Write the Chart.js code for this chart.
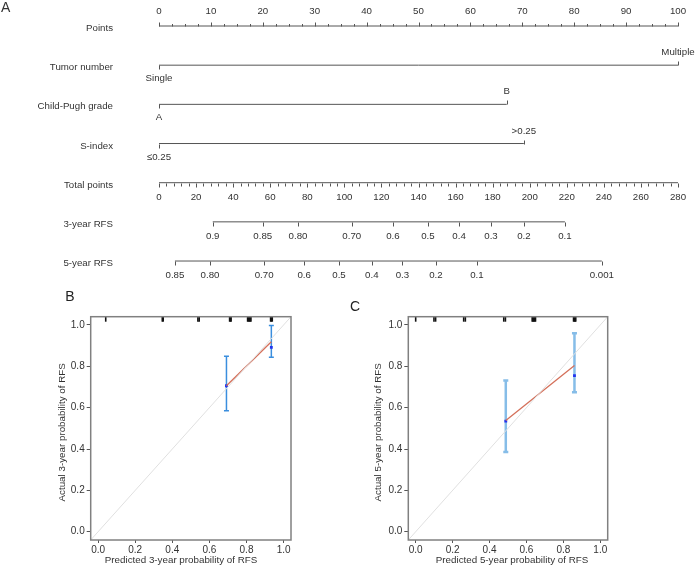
<!DOCTYPE html>
<html>
<head>
<meta charset="utf-8">
<script src="https://cdn.jsdelivr.net/npm/chart.js@4.4.1/dist/chart.umd.min.js"></script>
<style>
  body { margin: 0; background: #fff; }
  #wrap { position: relative; width: 696px; height: 568px; }
  canvas { position: absolute; }
</style>
</head>
<body>
<div id="wrap">
  <canvas id="nomo" width="696" height="285" style="left:0;top:0"></canvas>
  <canvas id="calB" width="330" height="283" style="left:0;top:285px"></canvas>
  <canvas id="calC" width="366" height="283" style="left:330px;top:285px"></canvas>
</div>
<script>
// ---- nomogram data ----
const rowNames = ['Points', 'Tumor number', 'Child-Pugh grade', 'S-index', 'Total points', '3-year RFS', '5-year RFS'];
const pointLabels = [0, 10, 20, 30, 40, 50, 60, 70, 80, 90, 100];
const tumorLevels = ['Single', 'Multiple'];
const tumorPoints = [0, 100];
const childLevels = ['A', 'B'];
const childPoints = [0, 67];
const sIndexLevels = ['\u22640.25', '>0.25'];
const sIndexPoints = [0, 70.3];
const totalLabels = [0, 20, 40, 60, 80, 100, 120, 140, 160, 180, 200, 220, 240, 260, 280];
const rfs3Labels = ['0.9', '0.85', '0.80', '0.70', '0.6', '0.5', '0.4', '0.3', '0.2', '0.1'];
const rfs3Points = [29, 56, 75, 104, 126.2, 145.1, 161.9, 179.1, 196.9, 219];
const rfs5Labels = ['0.85', '0.80', '0.70', '0.6', '0.5', '0.4', '0.3', '0.2', '0.1', '0.001'];
const rfs5Points = [8.6, 27.5, 56.7, 78.3, 97.1, 114.8, 131.3, 149.4, 171.5, 238.9];

// ---- calibration data ----
const axisTicks = [0, 0.2, 0.4, 0.6, 0.8, 1.0];
const diagonal = [-0.04, 1.04];

const pred3 = [0.692, 0.934];
const obs3 = [0.706, 0.919];
const km3 = [0.706, 0.892];
const low3 = [0.585, 0.844];
const high3 = [0.849, 0.998];
const rug3 = [0.041, 0.346, 0.351, 0.538, 0.545, 0.709, 0.713, 0.717, 0.806, 0.810, 0.815, 0.819, 0.824, 0.930, 0.934, 0.939];

const pred5 = [0.488, 0.86];
const obs5 = [0.538, 0.804];
const km5 = [0.535, 0.755];
const low5 = [0.386, 0.675];
const high5 = [0.731, 0.96];
const rug5 = [0.0, 0.099, 0.108, 0.260, 0.269, 0.477, 0.486, 0.631, 0.636, 0.640, 0.645, 0.649, 0.855, 0.859, 0.863, 0.867];

const FONT = '"Liberation Sans", Arial, Helvetica, sans-serif';
const textColor = '#333';
const lineColor = '#555';

// ---- nomogram ----
const nomoPlugin = {
    id: 'nomoAxes',
    afterDatasetsDraw(chart) {
        const ctx = chart.ctx;
        const xs = chart.scales.x, xt = chart.scales.xt, ys = chart.scales.y;
        const rowY = i => Math.round(ys.getPixelForValue(i)) + 0.5;
        const tick = (scale, v, row, len) => {
            const px = Math.round(scale.getPixelForValue(v)) + 0.5;
            const py = rowY(row);
            ctx.beginPath();
            ctx.moveTo(px, py);
            ctx.lineTo(px, py + len);
            ctx.stroke();
        };
        ctx.save();
        ctx.strokeStyle = lineColor;
        ctx.lineWidth = 1;
        ctx.fillStyle = textColor;
        ctx.textBaseline = 'middle';

        ctx.font = '14px ' + FONT;
        ctx.textAlign = 'left';
        ctx.fillText('A', 1, 8);

        ctx.font = '9.7px ' + FONT;
        ctx.textAlign = 'right';
        rowNames.forEach((n, i) => ctx.fillText(n, 113, rowY(i) + 2));

        ctx.textAlign = 'center';
        // points axis
        for (let v = 0; v <= 100; v += 2.5) tick(xs, v, 0, v % 10 === 0 ? -4 : -2.5);
        pointLabels.forEach(v => ctx.fillText(String(v), xs.getPixelForValue(v), rowY(0) - 15.5));

        // categorical rows
        const levels = (row, names, pts) => {
            names.forEach((name, i) => {
                const dir = i % 2 === 0 ? 1 : -1;
                tick(xs, pts[i], row, dir * 4);
                ctx.fillText(name, xs.getPixelForValue(pts[i]), rowY(row) + dir * 13);
            });
        };
        levels(1, tumorLevels, tumorPoints);
        levels(2, childLevels, childPoints);
        levels(3, sIndexLevels, sIndexPoints);

        // total points
        for (let v = 0; v <= 280; v += 4) tick(xt, v, 4, v % 20 === 0 ? 4 : 3);
        totalLabels.forEach(v => ctx.fillText(String(v), xt.getPixelForValue(v), rowY(4) + 13.5));

        // survival rows
        rfs3Points.forEach((p, i) => {
            tick(xt, p, 5, 4);
            ctx.fillText(rfs3Labels[i], xt.getPixelForValue(p), rowY(5) + 14);
        });
        rfs5Points.forEach((p, i) => {
            tick(xt, p, 6, 4);
            ctx.fillText(rfs5Labels[i], xt.getPixelForValue(p), rowY(6) + 14);
        });
        ctx.restore();
    }
};

function rowLine(points, row, axis) {
    return {
        data: [Math.min(...points), Math.max(...points)].map(x => ({ x: x, y: row })),
        xAxisID: axis,
        showLine: true,
        borderColor: lineColor,
        borderWidth: 1,
        pointRadius: 0
    };
}

new Chart(document.getElementById('nomo'), {
    type: 'scatter',
    data: {
        datasets: [
            rowLine(pointLabels, 0, 'x'),
            rowLine(tumorPoints, 1, 'x'),
            rowLine(childPoints, 2, 'x'),
            rowLine(sIndexPoints, 3, 'x'),
            rowLine(totalLabels, 4, 'xt'),
            rowLine(rfs3Points, 5, 'xt'),
            rowLine(rfs5Points, 6, 'xt')
        ]
    },
    options: {
        responsive: false,
        animation: false,
        events: [],
        layout: { padding: { left: 159, right: 18, top: 0, bottom: 0 } },
        plugins: { legend: { display: false }, tooltip: { enabled: false } },
        scales: {
            x: { type: 'linear', min: 0, max: 100, display: false },
            xt: { type: 'linear', min: 0, max: 280, display: false },
            y: { type: 'linear', min: -0.664, max: 6.612, reverse: true, display: false }
        }
    },
    plugins: [nomoPlugin]
});

// ---- calibration plots ----
const calPlugin = {
    id: 'calExtras',
    beforeDatasetsDraw(chart) {
        const p = chart.options.plugins.calExtras;
        const ctx = chart.ctx, xs = chart.scales.x, ys = chart.scales.y;
        ctx.save();
        ctx.strokeStyle = p.barColor;
        ctx.lineWidth = p.barWidth;
        p.pred.forEach((v, i) => {
            const px = xs.getPixelForValue(v);
            const y1 = ys.getPixelForValue(p.low[i]);
            const y2 = ys.getPixelForValue(p.high[i]);
            ctx.beginPath();
            ctx.moveTo(px, y1); ctx.lineTo(px, y2);
            ctx.moveTo(px - 2.5, y1); ctx.lineTo(px + 2.5, y1);
            ctx.moveTo(px - 2.5, y2); ctx.lineTo(px + 2.5, y2);
            ctx.stroke();
        });
        ctx.restore();
    },
    afterDraw(chart) {
        const p = chart.options.plugins.calExtras;
        const ctx = chart.ctx, xs = chart.scales.x;
        const a = chart.chartArea;
        ctx.save();
        // rug
        ctx.strokeStyle = '#111';
        ctx.lineWidth = 1.6;
        p.rug.forEach(v => {
            const px = xs.getPixelForValue(v);
            ctx.beginPath();
            ctx.moveTo(px, a.top);
            ctx.lineTo(px, a.top + 5);
            ctx.stroke();
        });
        // box
        ctx.strokeStyle = '#808080';
        ctx.lineWidth = 1.5;
        ctx.strokeRect(a.left, a.top, a.right - a.left, a.bottom - a.top);
        // titles
        ctx.fillStyle = textColor;
        ctx.font = '9.8px ' + FONT;
        ctx.textAlign = 'center';
        ctx.textBaseline = 'middle';
        ctx.fillText(p.xTitle, p.xTitleX, 275);
        ctx.save();
        ctx.translate(p.yTitleX, (a.top + a.bottom) / 2 + 4);
        ctx.rotate(-Math.PI / 2);
        ctx.fillText(p.yTitle, 0, 0);
        ctx.restore();
        // panel letter
        ctx.font = '14px ' + FONT;
        ctx.fillStyle = '#222';
        ctx.fillText(p.letter, p.letterX, p.letterY);
        ctx.restore();
    }
};

function axisOpts(isX, size) {
    return {
        type: 'linear',
        min: -0.04,
        max: 1.04,
        afterFit(s) { if (isX) s.height = size; else s.width = size; },
        afterBuildTicks(s) { s.ticks = axisTicks.map(v => ({ value: v })); },
        grid: { drawOnChartArea: false, drawTicks: true, tickLength: isX ? 3 : 4, color: lineColor },
        border: { display: false },
        ticks: {
            callback: v => Number(v).toFixed(1),
            padding: isX ? 1 : 2,
            color: textColor,
            font: { family: FONT, size: 10 },
            maxRotation: 0,
            autoSkip: false
        }
    };
}

function calibrationChart(id, cfg) {
    const canvas = document.getElementById(id);
    return new Chart(canvas, {
        type: 'scatter',
        data: {
            datasets: [
                {
                    data: diagonal.map(v => ({ x: v, y: v })),
                    showLine: true, borderColor: '#e0e0e0', borderWidth: 1, pointRadius: 0
                },
                {
                    data: cfg.pred.map((v, i) => ({ x: v, y: cfg.obs[i] })),
                    showLine: true, borderColor: '#d4705a', borderWidth: 1.3, pointRadius: 0
                },
                {
                    data: cfg.pred.map((v, i) => ({ x: v, y: cfg.km[i] })),
                    pointStyle: 'rect', pointRadius: 2,
                    backgroundColor: '#2233ee', borderColor: '#2233ee', borderWidth: 0
                }
            ]
        },
        options: {
            responsive: false,
            animation: false,
            events: [],
            layout: { padding: { left: 0, right: canvas.width - cfg.right, top: 31.7, bottom: 0 } },
            plugins: {
                legend: { display: false },
                tooltip: { enabled: false },
                calExtras: cfg
            },
            scales: {
                x: axisOpts(true, 28),
                y: axisOpts(false, cfg.left)
            }
        },
        plugins: [calPlugin]
    });
}

calibrationChart('calB', {
    pred: pred3, obs: obs3, km: km3, low: low3, high: high3, rug: rug3,
    barColor: '#3a8ede', barWidth: 1.5,
    left: 90.7, right: 291,
    xTitle: 'Predicted 3-year probability of RFS', xTitleX: 181,
    yTitle: 'Actual 3-year probability of RFS', yTitleX: 62,
    letter: 'B', letterX: 70, letterY: 12
});

calibrationChart('calC', {
    pred: pred5, obs: obs5, km: km5, low: low5, high: high5, rug: rug5,
    barColor: '#86bde8', barWidth: 2.5,
    left: 78.3, right: 277.7,
    xTitle: 'Predicted 5-year probability of RFS', xTitleX: 182,
    yTitle: 'Actual 5-year probability of RFS', yTitleX: 48,
    letter: 'C', letterX: 25, letterY: 22
});
</script>
</body>
</html>
